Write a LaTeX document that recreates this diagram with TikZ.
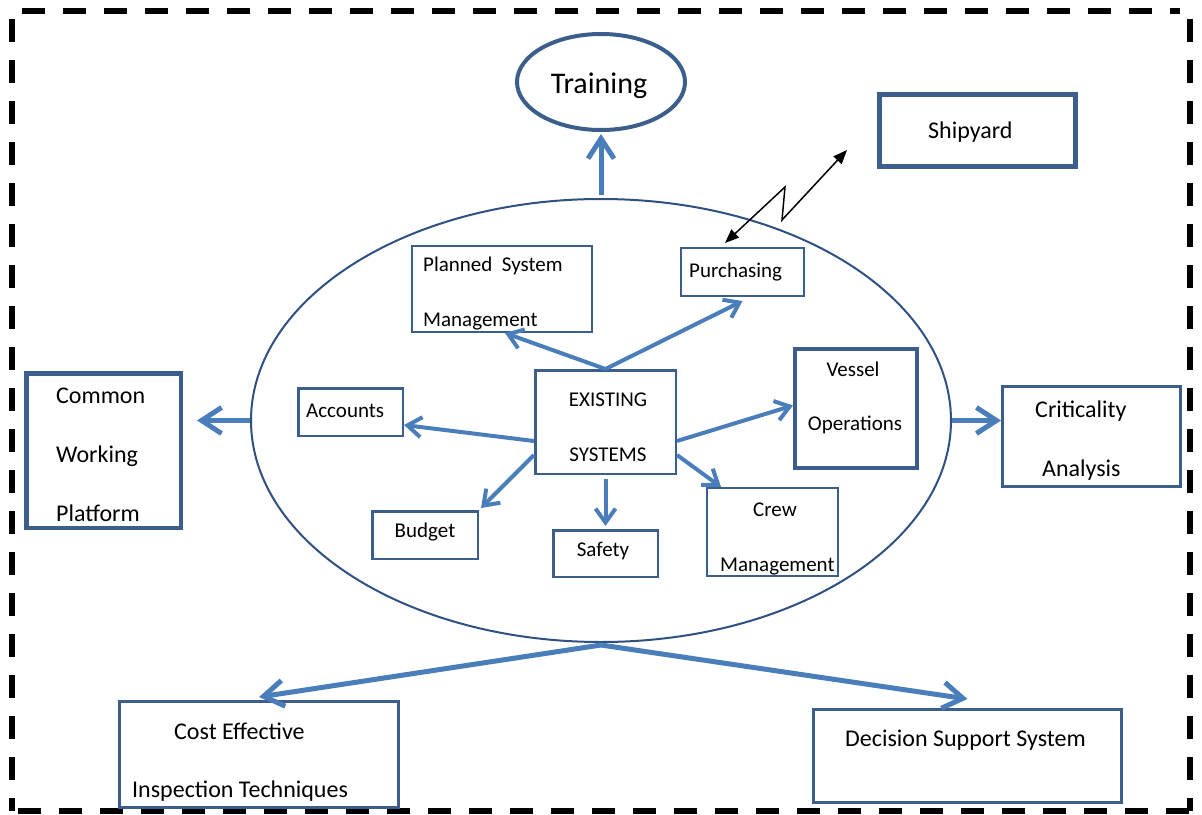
\documentclass[tikz,border=0pt]{standalone}
\usepackage{fontspec}
\setmainfont{Carlito}
\usetikzlibrary{arrows.meta,shapes.geometric,calc}
\definecolor{boxblue}{HTML}{3B5E8C}
\definecolor{ringblue}{HTML}{2F5182}
\definecolor{flowblue}{HTML}{4A7EBB}

\tikzset{
  box/.style={draw=boxblue, rectangle, inner sep=0pt, line width=#1},
  box/.default=2.5pt,
  lbl/.style={inner sep=0pt, font=\fontsize{21}{25}\selectfont},
  lblbig/.style={inner sep=0pt, font=\fontsize{24}{28}\selectfont},
  flow/.style={draw=flowblue, line width=4pt, -{Straight Barb[length=14pt,width=20pt]}},
  bigflow/.style={draw=flowblue, line width=5pt, -{Straight Barb[length=20pt,width=26pt]}},
  zig/.style={draw=black, line width=1.5pt, line join=miter,
    {Triangle[length=14pt,width=11pt]}-{Triangle[length=14pt,width=11pt]}},
  frameline/.style={draw=black, line width=6pt, dash pattern=on 23pt off 18pt}
}

\begin{document}
\begin{tikzpicture}[x=1pt,y=-1pt]
\useasboundingbox (0,0) rectangle (1202,814);

% dashed outer frame
\draw[frameline] (22,11) -- (1180,11);
\draw[frameline] (12,19) -- (12,811);
\draw[frameline] (1190,19) -- (1190,811);
\draw[frameline] (18,811) -- (1190,811);

% central ring and the top ellipse
\node[ellipse, draw=ringblue, line width=2pt, inner sep=0pt,
      minimum width=700pt, minimum height=443pt] (ring) at (601,420.5) {};
\node[ellipse, draw=boxblue, line width=4pt, inner sep=0pt,
      minimum width=168pt, minimum height=96pt] (train) at (601,82) {};
\node[inner sep=0pt, font=\fontsize{30}{34}\selectfont, anchor=base] (trainT) at (599,93) {Training};

% boxes
\node[box=5pt, minimum width=196pt, minimum height=72pt] (ship) at (977.5,130.5) {};
\node[box=2pt, minimum width=123pt, minimum height=48pt] (pur) at (742.5,272) {};
\node[box=2pt, minimum width=180pt, minimum height=86pt] (psm) at (502,289) {};
\node[box, minimum width=140.5pt, minimum height=103.5pt] (ex) at (605.5,422) {};
\node[box, minimum width=104.5pt, minimum height=47.5pt] (acc) at (350.5,412) {};
\node[box, minimum width=105.5pt, minimum height=47.5pt] (bud) at (425,535) {};
\node[box, minimum width=104.5pt, minimum height=46.5pt] (saf) at (605.5,553.5) {};
\node[box=2pt, minimum width=131pt, minimum height=88pt] (crew) at (772.5,532) {};
\node[box=4pt, minimum width=122pt, minimum height=119pt] (ves) at (856,408.5) {};
\node[box=3pt, minimum width=178pt, minimum height=100pt] (crit) at (1091.5,436.5) {};
\node[box=4.5pt, minimum width=154.5pt, minimum height=154.5pt] (cwp) at (103.5,450.5) {};
\node[box=3pt, minimum width=279pt, minimum height=106pt] (cost) at (259,754.5) {};
\node[box=3pt, minimum width=308pt, minimum height=93pt] (dss) at (967.5,756) {};

% box texts
\node[lblbig, anchor=base west] (shipT) at (928,138) {Shipyard};
\node[lbl, anchor=base west] (purT) at (689,277) {Purchasing};
\node[lbl, anchor=base west] (psmT1) at (423,271) {Planned\ \ System};
\node[lbl, anchor=base west] (psmT2) at (423,326) {Management};
\node[lbl, anchor=base] (exT1) at (608,406) {EXISTING};
\node[lbl, anchor=base] (exT2) at (608,461) {SYSTEMS};
\node[lbl, anchor=base west] (accT) at (306,417) {Accounts};
\node[lbl, anchor=base] (budT) at (425,537) {Budget};
\node[lbl, anchor=base] (safT) at (603,556) {Safety};
\node[lbl, anchor=base west] (crewT1) at (753,516) {Crew};
\node[lbl, anchor=base west] (crewT2) at (720,571) {Management};
\node[lbl, anchor=base] (vesT1) at (853,376) {Vessel};
\node[lbl, anchor=base] (vesT2) at (855,430) {Operations};
\node[lblbig, anchor=base west] (critT1) at (1035,417) {Criticality};
\node[lblbig, anchor=base west] (critT2) at (1042,476) {Analysis};
\node[lblbig, anchor=base west] (cwpT1) at (56,403) {Common};
\node[lblbig, anchor=base west] (cwpT2) at (56,462) {Working};
\node[lblbig, anchor=base west] (cwpT3) at (56,521) {Platform};
\node[lblbig, anchor=base west] (costT1) at (174,739) {Cost Effective};
\node[lblbig, anchor=base west] (costT2) at (132,797) {Inspection Techniques};
\node[lblbig, anchor=base west] (dssT) at (845,746) {Decision Support System};

% links from the ring to the outer elements
\draw[bigflow] ([yshift=3pt]ring.north) -- ([yshift=-2pt]train.south);
\draw[bigflow] (ring.west) -- ($(ring.west -| cwp.east)+(14,0)$);
\draw[bigflow] (ring.east) -- (ring.east -| crit.west);
\draw[bigflow] ([yshift=-2pt]ring.south) -- ([yshift=3pt]cost.north);
\draw[bigflow] ([yshift=-2pt]ring.south) -- ([yshift=9pt]dss.north);

% links from the existing systems to the inner boxes
\draw[flow] (ex.north) -- ([xshift=3pt]psm.south);
\draw[flow] (ex.north) -- ([yshift=-4pt]pur.south);
\draw[flow] ([yshift=-19pt]ex.west) -- ([yshift=-13pt]acc.east);
\draw[flow] ([yshift=-33pt]ex.west) -- ([xshift=2pt,yshift=2pt]bud.north east);
\draw[flow] ([yshift=-4pt]ex.south) -- ([yshift=3pt]saf.north);
\draw[flow] ([yshift=-19pt]ex.east) -- ([yshift=3pt]ves.west);
\draw[flow] ([yshift=-33pt]ex.east) -- ([xshift=15pt]crew.north west);

% purchasing <-> shipyard link
\coordinate (zA) at (725,243);
\coordinate (z1) at (785,187);
\coordinate (z2) at (782,220);
\coordinate (zB) at (847,150);
\draw[zig] (zA) -- (z1) -- (z2) -- (zB);
\end{tikzpicture}
\end{document}
